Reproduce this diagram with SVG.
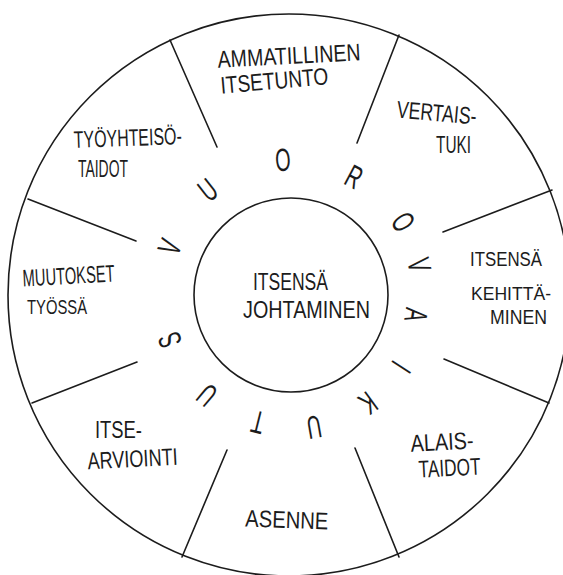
<svg xmlns="http://www.w3.org/2000/svg" width="563" height="575" viewBox="0 0 563 575">
<style>
.ln{fill:none;stroke:#1c1c1c;stroke-width:1.6;stroke-linecap:round}
.lb{font-family:"Liberation Sans",Arial,sans-serif;font-size:24px;fill:#1c1c1c}
.sm{font-size:20px}
.xs{font-size:19px}
.rl{font-family:"Liberation Sans",Arial,sans-serif;font-size:32px;fill:#1c1c1c;text-anchor:middle;dominant-baseline:central}
</style>
<rect width="563" height="575" fill="#ffffff"/>
<g id="wheel">
<circle class="ln" cx="289" cy="295" r="281"/>
</g>
<g id="connectors">
<line class="ln" x1="170" y1="40" x2="217" y2="147"/>
<line class="ln" x1="399" y1="35" x2="357" y2="143"/>
<line class="ln" x1="552" y1="190" x2="443" y2="232"/>
<line class="ln" x1="28" y1="199" x2="136" y2="241"/>
<line class="ln" x1="32" y1="403" x2="137" y2="362"/>
<line class="ln" x1="549" y1="403" x2="444" y2="359"/>
<line class="ln" x1="182" y1="557" x2="227" y2="450"/>
<line class="ln" x1="399" y1="557" x2="355" y2="448"/>
</g>
<g id="center">
<circle class="ln" cx="291" cy="295" r="97"/>
<text class="lb" x="253" y="290" textLength="75" lengthAdjust="spacingAndGlyphs">ITSENSÄ</text>
<text class="lb" x="243" y="318" textLength="127" lengthAdjust="spacingAndGlyphs">JOHTAMINEN</text>
</g>
<g id="ammatillinen-itsetunto">
<text class="lb" x="218" y="64" textLength="143" lengthAdjust="spacingAndGlyphs" transform="rotate(-3 289.5 64)">AMMATILLINEN</text>
<text class="lb" x="221" y="89" textLength="108" lengthAdjust="spacingAndGlyphs" transform="rotate(-5 275 89)">ITSETUNTO</text>
</g>
<g id="vertaistuki">
<text class="lb" x="396" y="121" textLength="80" lengthAdjust="spacingAndGlyphs" transform="rotate(5 436 121)">VERTAIS-</text>
<text class="lb" x="436" y="153" textLength="35" lengthAdjust="spacingAndGlyphs">TUKI</text>
</g>
<g id="itsensa-kehittaminen">
<text class="lb sm" x="470" y="266" textLength="72" lengthAdjust="spacingAndGlyphs">ITSENSÄ</text>
<text class="lb xs" x="471" y="300" textLength="80" lengthAdjust="spacingAndGlyphs">KEHITTÄ-</text>
<text class="lb sm" x="490" y="324" textLength="57" lengthAdjust="spacingAndGlyphs">MINEN</text>
</g>
<g id="alaistaidot">
<text class="lb" x="411" y="450" textLength="63" lengthAdjust="spacingAndGlyphs" transform="rotate(-3 442.5 450)">ALAIS-</text>
<text class="lb" x="419" y="476" textLength="62" lengthAdjust="spacingAndGlyphs" transform="rotate(-3 450 476)">TAIDOT</text>
</g>
<g id="asenne">
<text class="lb" x="245" y="528" textLength="83" lengthAdjust="spacingAndGlyphs" transform="rotate(2 286.5 528)">ASENNE</text>
</g>
<g id="itsearviointi">
<text class="lb" x="95" y="438" textLength="47" lengthAdjust="spacingAndGlyphs">ITSE-</text>
<text class="lb" x="88" y="467" textLength="90" lengthAdjust="spacingAndGlyphs" transform="rotate(-3 133 467)">ARVIOINTI</text>
</g>
<g id="muutokset-tyossa">
<text class="lb" x="23" y="284" textLength="92" lengthAdjust="spacingAndGlyphs" transform="rotate(-3 69 284)">MUUTOKSET</text>
<text class="lb sm" x="27" y="314" textLength="60" lengthAdjust="spacingAndGlyphs">TYÖSSÄ</text>
</g>
<g id="tyoyhteisotaidot">
<text class="lb" x="74" y="146" textLength="108" lengthAdjust="spacingAndGlyphs" transform="rotate(-2 128 146)">TYÖYHTEISÖ-</text>
<text class="lb" x="78" y="177" textLength="50" lengthAdjust="spacingAndGlyphs">TAIDOT</text>
</g>
<g id="vuorovaikutus">
<text class="rl" transform="translate(170 247) rotate(-68) scale(0.62 1)">V</text>
<text class="rl" transform="translate(208 190) rotate(-38) scale(0.62 1)">U</text>
<text class="rl" transform="translate(283 160) rotate(-3) scale(0.62 1)">O</text>
<text class="rl" transform="translate(354 177) rotate(28) scale(0.62 1)">R</text>
<text class="rl" transform="translate(403 222) rotate(57) scale(0.62 1)">O</text>
<text class="rl" transform="translate(419 265) rotate(77) scale(0.62 1)">V</text>
<text class="rl" transform="translate(416 315) rotate(99) scale(0.62 1)">A</text>
<text class="rl" transform="translate(401 367) rotate(123) scale(0.62 1)">I</text>
<text class="rl" transform="translate(368 403) rotate(144) scale(0.62 1)">K</text>
<text class="rl" transform="translate(314 427) rotate(170) scale(0.62 1)">U</text>
<text class="rl" transform="translate(258 422) rotate(194) scale(0.62 1)">T</text>
<text class="rl" transform="translate(207 395) rotate(220) scale(0.62 1)">U</text>
<text class="rl" transform="translate(170 340) rotate(249) scale(0.62 1)">S</text>
</g>
</svg>
